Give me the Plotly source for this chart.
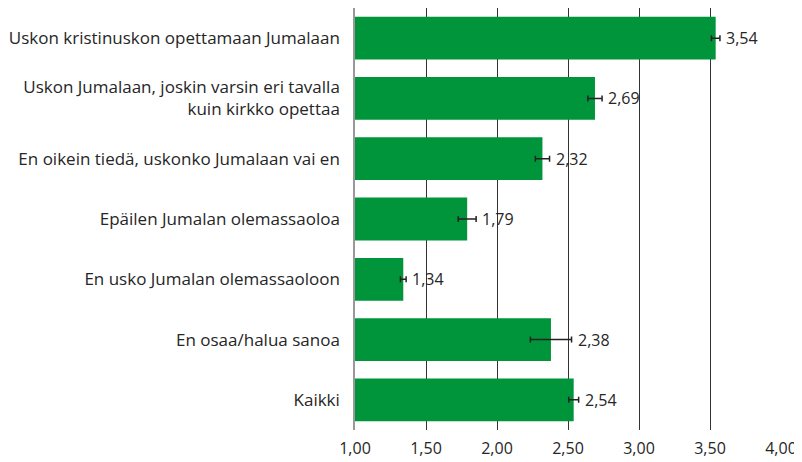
import plotly.graph_objects as go

categories = [
    "Uskon kristinuskon opettamaan Jumalaan",
    "Uskon Jumalaan, joskin varsin eri tavalla<br>kuin kirkko opettaa",
    "En oikein tiedä, uskonko Jumalaan vai en",
    "Epäilen Jumalan olemassaoloa",
    "En usko Jumalan olemassaoloon",
    "En osaa/halua sanoa",
    "Kaikki",
]
values = [3.54, 2.69, 2.32, 1.79, 1.34, 2.38, 2.54]
errors = [0.03, 0.05, 0.05, 0.063, 0.02, 0.145, 0.035]
value_labels = ["3,54", "2,69", "2,32", "1,79", "1,34", "2,38", "2,54"]
tick_values = [1.0, 1.5, 2.0, 2.5, 3.0, 3.5, 4.0]
tick_labels = ["1,00", "1,50", "2,00", "2,50", "3,00", "3,50", "4,00"]
base_value = 1.0

FONT = "Open Sans"
GREEN = "#00953a"
TEXT = "#262626"

fig = go.Figure()
fig.add_trace(go.Bar(
    y=categories,
    x=[v - base_value for v in values],
    base=base_value,
    orientation="h",
    marker=dict(color=GREEN, line=dict(width=0)),
    error_x=dict(type="data", array=errors, color="#222222", thickness=1.5, width=3),
    hoverinfo="skip",
))

for cat, v, e, lab in zip(categories, values, errors, value_labels):
    fig.add_annotation(
        x=v + e, y=cat, text=lab, showarrow=False,
        xanchor="left", yanchor="middle", xshift=4,
        font=dict(family=FONT, size=16, color=TEXT),
    )

# page body has an 8px default margin; figure is sized/offset to compensate
fig.update_layout(
    width=794,
    height=454,
    margin=dict(l=347, r=21, t=0, b=32, autoexpand=False),
    paper_bgcolor="white",
    plot_bgcolor="white",
    showlegend=False,
    bargap=0.29,
    font=dict(family=FONT, size=17, color=TEXT),
)
fig.update_xaxes(
    range=[1.0, 4.0],
    tickvals=tick_values,
    ticktext=tick_labels,
    showgrid=True,
    gridcolor="#333333",
    gridwidth=1,
    zeroline=False,
    showline=False,
    ticks="",
    automargin=False,
    ticklabelstandoff=7,
    tickfont=dict(family=FONT, size=16, color=TEXT),
)
fig.update_yaxes(
    autorange="reversed",
    showgrid=False,
    showline=True,
    linecolor="#999999",
    linewidth=1.5,
    ticks="",
    automargin=False,
    ticklabelstandoff=10,
    tickfont=dict(family=FONT, size=17, color=TEXT),
)

fig.write_html("out.html")
